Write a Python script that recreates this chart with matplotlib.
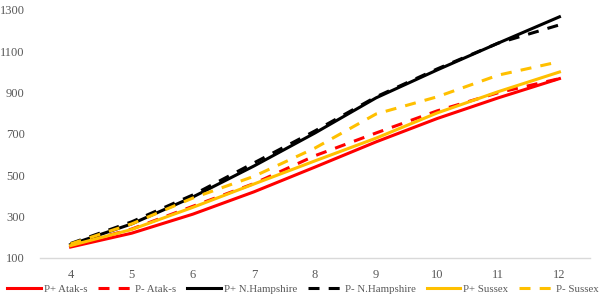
import matplotlib
matplotlib.use("Agg")
import matplotlib.pyplot as plt

categories = [4, 5, 6, 7, 8, 9, 10, 11, 12]
p_plus_atak = [153, 220, 312, 420, 540, 662, 775, 875, 968]
p_minus_atak = [160, 240, 350, 460, 595, 705, 812, 900, 968]
p_plus_nh = [165, 265, 395, 545, 705, 875, 1010, 1140, 1267]
p_minus_nh = [170, 275, 405, 560, 715, 880, 1015, 1140, 1228]
p_plus_sussex = [160, 238, 345, 458, 570, 680, 802, 905, 1000]
p_minus_sussex = [168, 265, 390, 495, 632, 797, 880, 985, 1050]
y_ticks = [100, 300, 500, 700, 900, 1100, 1300]

plt.rcParams['font.family'] = ['Liberation Serif', 'DejaVu Serif']

fig = plt.figure(figsize=(6.06, 3.01), dpi=100)
ax = fig.add_axes([40/606, (301-258)/301, 550/606, 248/301])

red = '#FF0000'
yel = '#FFC000'
blk = '#000000'
lw = 2.2
dash = (3.6, 3.0)
x = list(range(len(categories)))
series = [
    (p_plus_atak, red, '-', 'P+ Atak-s'),
    (p_minus_atak, red, '--', 'P- Atak-s'),
    (p_plus_nh, blk, '-', 'P+ N.Hampshire'),
    (p_minus_nh, blk, '--', 'P- N.Hampshire'),
    (p_plus_sussex, yel, '-', 'P+ Sussex'),
    (p_minus_sussex, yel, '--', 'P- Sussex'),
]
for vals, c, ls, lab in series:
    if ls == '--':
        ax.plot(x, vals, color=c, lw=lw, dashes=dash, label=lab, dash_capstyle='butt')
    else:
        ax.plot(x, vals, color=c, lw=lw, label=lab)

ax.set_xlim(-0.5, len(categories) - 0.5)
ax.set_ylim(100, 1300)
ax.set_yticks(y_ticks)
ax.set_xticks(x)
ax.set_xticklabels([str(c) for c in categories])
for s in ['top', 'right', 'left']:
    ax.spines[s].set_visible(False)
ax.spines['bottom'].set_color('#D9D9D9')
ax.spines['bottom'].set_linewidth(1.0)
ax.tick_params(axis='both', length=0, labelsize=9, colors='#595959')
ax.tick_params(axis='x', pad=8)
ax.tick_params(axis='y', pad=11)

leg = fig.legend(loc='center', bbox_to_anchor=(0.5, 0.04), ncol=6, frameon=False,
                 fontsize=7.8, handlelength=3.1, handletextpad=0.3, columnspacing=1.0,
                 labelcolor='#595959')

fig.savefig('out.png', dpi=100)
